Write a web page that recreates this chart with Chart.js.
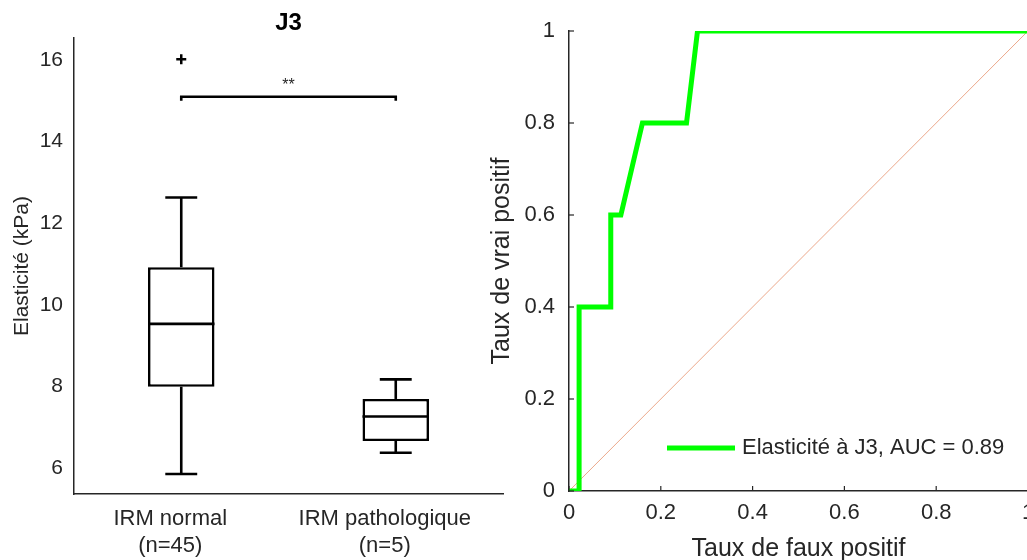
<!DOCTYPE html>
<html>
<head>
<meta charset="utf-8">
<script src="https://cdn.jsdelivr.net/npm/chart.js@4.4.1/dist/chart.umd.min.js"></script>
<style>
  html, body { margin: 0; padding: 0; background: #fff; overflow: hidden; }
  #wrap { position: relative; width: 1027px; height: 560px; }
  #boxes { position: absolute; left: 0; top: 0; }
  #roc { position: absolute; left: 480px; top: 0; }
</style>
</head>
<body>
<div id="wrap">
  <canvas id="boxes" width="520" height="560"></canvas>
  <canvas id="roc" width="560" height="560"></canvas>
</div>
<script>
// box plot data (Elasticité, kPa)
const groups = [['IRM normal', '(n=45)'], ['IRM pathologique', '(n=5)']];
const boxMin = [5.85, 6.37];
const boxQ1 = [7.99, 6.66];
const boxMedian = [9.53, 7.26];
const boxQ3 = [10.92, 7.69];
const boxMax = [12.63, 8.17];
const outliers = [16.02, null];
const elastTicks = [6, 8, 10, 12, 14, 16];
const sigLevel = 15.1;
const sigLabel = '**';

// ROC data
const rocFpr = [0, 0.022, 0.022, 0.091, 0.091, 0.113, 0.16, 0.256, 0.28, 1];
const rocTpr = [0, 0, 0.4, 0.4, 0.6, 0.6, 0.8, 0.8, 1, 1];
const chanceFpr = [0, 1];
const chanceTpr = [0, 1];
const rocTicks = [0, 0.2, 0.4, 0.6, 0.8, 1];
const rocLabel = 'Elasticité à J3, AUC = 0.89';

Chart.defaults.font.family = "'Liberation Sans', Arial, sans-serif";
Chart.defaults.color = '#262626';

function line(ctx, x1, y1, x2, y2) {
  ctx.beginPath();
  ctx.moveTo(x1, y1);
  ctx.lineTo(x2, y2);
  ctx.stroke();
}

const boxDecor = {
  id: 'boxDecor',
  afterDatasetsDraw(chart) {
    const ctx = chart.ctx;
    const y = chart.scales.y;
    const bars = chart.getDatasetMeta(0).data;
    ctx.save();
    ctx.strokeStyle = '#000';
    ctx.lineWidth = 2.6;
    bars.forEach((bar, i) => {
      const half = bar.width / 2;
      const cap = bar.width * 0.24;
      const ym = y.getPixelForValue(boxMedian[i]);
      line(ctx, bar.x - half, ym, bar.x + half, ym);
      line(ctx, bar.x, y.getPixelForValue(boxQ3[i]), bar.x, y.getPixelForValue(boxMax[i]));
      line(ctx, bar.x, y.getPixelForValue(boxQ1[i]), bar.x, y.getPixelForValue(boxMin[i]));
      line(ctx, bar.x - cap, y.getPixelForValue(boxMax[i]), bar.x + cap, y.getPixelForValue(boxMax[i]));
      line(ctx, bar.x - cap, y.getPixelForValue(boxMin[i]), bar.x + cap, y.getPixelForValue(boxMin[i]));
    });
    // significance bracket
    const yb = y.getPixelForValue(sigLevel);
    const yt = y.getPixelForValue(sigLevel - 0.1);
    const xa = bars[0].x, xb = bars[1].x;
    ctx.beginPath();
    ctx.moveTo(xa, yt);
    ctx.lineTo(xa, yb);
    ctx.lineTo(xb, yb);
    ctx.lineTo(xb, yt);
    ctx.stroke();
    ctx.fillStyle = '#262626';
    ctx.font = "16px 'Liberation Sans', Arial, sans-serif";
    ctx.textAlign = 'center';
    ctx.textBaseline = 'middle';
    ctx.fillText(sigLabel, (xa + xb) / 2, yb - 11);
    // title
    const a = chart.chartArea;
    ctx.fillStyle = '#000';
    ctx.font = "bold 24px 'Liberation Sans', Arial, sans-serif";
    ctx.fillText('J3', (a.left + a.right) / 2, 23);
    ctx.restore();
  }
};

new Chart(document.getElementById('boxes'), {
  type: 'bar',
  data: {
    labels: groups,
    datasets: [{
      data: groups.map((g, i) => [boxQ1[i], boxQ3[i]]),
      backgroundColor: '#fff',
      borderColor: '#000',
      borderWidth: 2.6,
      borderSkipped: false,
      barPercentage: 0.31,
      categoryPercentage: 1
    }, {
      type: 'line',
      data: outliers,
      showLine: false,
      pointStyle: 'cross',
      pointRadius: 5,
      borderColor: '#000',
      borderWidth: 2.5
    }]
  },
  options: {
    responsive: false,
    animation: false,
    devicePixelRatio: 1,
    layout: { padding: { top: 38, right: 17, left: 0, bottom: 0 } },
    plugins: { legend: { display: false }, tooltip: { enabled: false } },
    scales: {
      x: {
        grid: { display: false },
        border: { display: true, color: '#262626', width: 1.5 },
        ticks: { font: { size: 22, lineHeight: 1.2 }, padding: 4, labelOffset: -11, maxRotation: 0 },
        afterFit: (s) => { s.height = 66; }
      },
      y: {
        min: 5.36,
        max: 16.54,
        grid: { display: false },
        border: { display: true, color: '#262626', width: 1.5 },
        ticks: { font: { size: 21 }, padding: 3 },
        afterBuildTicks: (s) => { s.ticks = elastTicks.map(v => ({ value: v })); },
        afterFit: (s) => { s.width = 74; },
        title: { display: true, text: 'Elasticité (kPa)', font: { size: 21 }, padding: { top: 10, bottom: 0 } }
      }
    }
  },
  plugins: [boxDecor]
});

const rocDecor = {
  id: 'rocDecor',
  afterDraw(chart) {
    const ctx = chart.ctx;
    const a = chart.chartArea;
    const xs = chart.scales.x, ys = chart.scales.y;
    ctx.save();
    ctx.strokeStyle = '#262626';
    ctx.lineWidth = 1.2;
    xs.ticks.forEach(t => {
      const px = xs.getPixelForValue(t.value);
      line(ctx, px, a.bottom, px, a.bottom - 5);
    });
    ys.ticks.forEach(t => {
      const py = ys.getPixelForValue(t.value);
      line(ctx, a.left, py, a.left + 5, py);
    });
    // legend
    const ds = chart.data.datasets[0];
    const ly = a.bottom - 43;
    ctx.strokeStyle = ds.borderColor;
    ctx.lineWidth = ds.borderWidth;
    line(ctx, a.left + 98, ly, a.left + 166, ly);
    ctx.fillStyle = '#262626';
    ctx.font = "22px 'Liberation Sans', Arial, sans-serif";
    ctx.textAlign = 'left';
    ctx.textBaseline = 'middle';
    ctx.fillText(ds.label, a.left + 173, ly);
    ctx.restore();
  }
};

new Chart(document.getElementById('roc'), {
  type: 'scatter',
  data: {
    datasets: [{
      label: rocLabel,
      data: rocFpr.map((x, i) => ({ x: x, y: rocTpr[i] })),
      showLine: true,
      borderColor: '#00ff00',
      borderWidth: 5,
      pointRadius: 0,
      borderJoinStyle: 'miter'
    }, {
      label: 'chance',
      data: chanceFpr.map((x, i) => ({ x: x, y: chanceTpr[i] })),
      showLine: true,
      borderColor: 'rgba(217, 83, 25, 0.5)',
      borderWidth: 1,
      pointRadius: 0
    }]
  },
  options: {
    responsive: false,
    animation: false,
    devicePixelRatio: 1,
    layout: { padding: { top: 31, right: 12, left: 0, bottom: 0 } },
    plugins: { legend: { display: false }, tooltip: { enabled: false } },
    scales: {
      x: {
        type: 'linear',
        min: 0,
        max: 1,
        grid: { display: false },
        border: { display: true, color: '#262626', width: 1.5 },
        ticks: { font: { size: 22 }, padding: 1, maxRotation: 0, callback: (v) => String(v) },
        afterBuildTicks: (s) => { s.ticks = rocTicks.map(v => ({ value: v })); },
        afterFit: (s) => { s.height = 69; s.paddingLeft = 0; s.paddingRight = 0; },
        title: { display: true, text: 'Taux de faux positif', font: { size: 25, lineHeight: 1 }, padding: { top: 0, bottom: -2 } }
      },
      y: {
        type: 'linear',
        min: 0,
        max: 1,
        grid: { display: false },
        border: { display: true, color: '#262626', width: 1.5 },
        ticks: { font: { size: 22 }, padding: 6, callback: (v) => String(v) },
        afterBuildTicks: (s) => { s.ticks = rocTicks.map(v => ({ value: v })); },
        afterFit: (s) => { s.width = 89; s.paddingTop = 0; s.paddingBottom = 0; },
        title: { display: true, text: 'Taux de vrai positif', font: { size: 25 }, padding: { top: 7, bottom: 0 } }
      }
    }
  },
  plugins: [rocDecor]
});
</script>
</body>
</html>
